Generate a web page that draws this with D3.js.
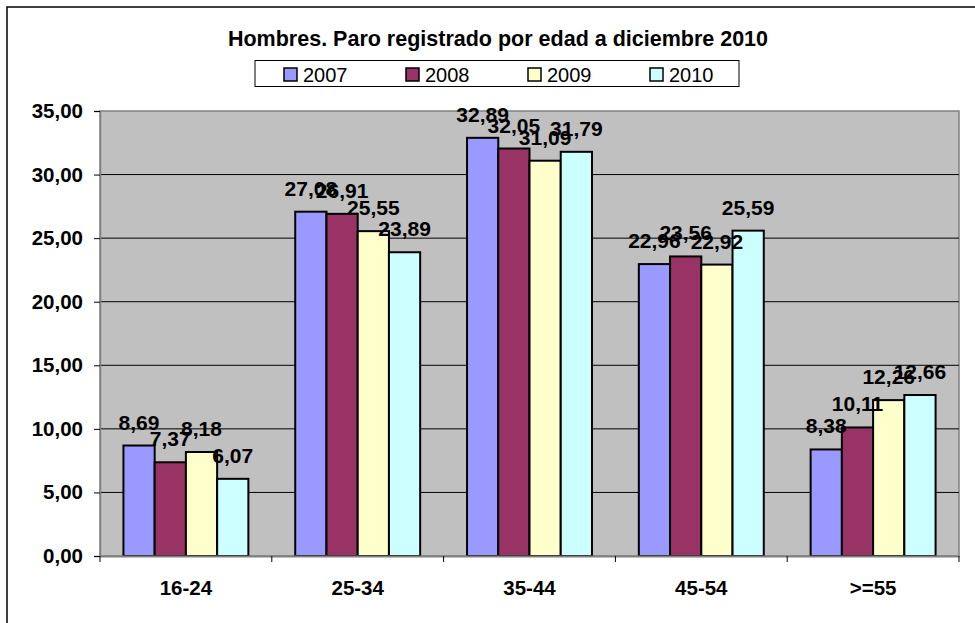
<!DOCTYPE html>
<html lang="es">
<head>
  <meta charset="UTF-8">
  <title>Hombres. Paro registrado por edad a diciembre 2010</title>
  <script src="https://d3js.org/d3.v7.min.js"></script>
  <style>
    body { margin: 0; overflow: hidden; background: #fff; }
    svg { display: block; font-family: "Liberation Sans", Arial, sans-serif; }
    .bold { font-weight: bold; }
  </style>
</head>
<body>
<svg width="975" height="623"></svg>

<script>
// datos
const edades = ['16-24', '25-34', '35-44', '45-54', '>=55'];
const anios = ['2007', '2008', '2009', '2010'];
const v2007 = [8.69, 27.08, 32.89, 22.96, 8.38];
const v2008 = [7.37, 26.91, 32.05, 23.56, 10.11];
const v2009 = [8.18, 25.55, 31.09, 22.92, 12.26];
const v2010 = [6.07, 23.89, 31.79, 25.59, 12.66];
const colores = ['#9999FF', '#993366', '#FFFFCC', '#CCFFFF'];
const yTicks = [0, 5, 10, 15, 20, 25, 30, 35];

const series = [v2007, v2008, v2009, v2010];
const fmt = v => d3.format('.2f')(v).replace('.', ',');

const svg = d3.select('svg');

// marco exterior
svg.append('rect')
  .attr('x', 7).attr('y', 7)
  .attr('width', 990).attr('height', 640)
  .attr('fill', 'none').attr('stroke', '#000').attr('stroke-width', 1.5);

const plot = { left: 100, top: 111, right: 959, bottom: 556 };

const x0 = d3.scaleBand().domain(edades).range([plot.left, plot.right]).padding(0);
const barW = x0.bandwidth() / 5.5;
const x1 = d3.scaleBand().domain(anios)
  .range([0.75 * barW, 4.75 * barW]).padding(0);
const y = d3.scaleLinear().domain([0, 35]).range([plot.bottom, plot.top]);

// fondo gris
svg.append('rect')
  .attr('x', plot.left).attr('y', plot.top)
  .attr('width', plot.right - plot.left).attr('height', plot.bottom - plot.top)
  .attr('fill', '#C0C0C0')
  .attr('stroke', '#808080').attr('stroke-width', 1.5);

// lineas de division
svg.append('g')
  .selectAll('line')
  .data(yTicks.slice(1, -1))
  .enter().append('line')
  .attr('x1', plot.left).attr('x2', plot.right)
  .attr('y1', d => y(d)).attr('y2', d => y(d))
  .attr('stroke', '#000').attr('stroke-width', 1);

// barras
const grupos = svg.append('g')
  .selectAll('g')
  .data(edades)
  .enter().append('g')
  .attr('transform', d => `translate(${x0(d)},0)`);

grupos.selectAll('rect')
  .data((d, i) => anios.map((a, j) => ({ anio: a, valor: series[j][i], j })))
  .enter().append('rect')
  .attr('x', d => x1(d.anio))
  .attr('y', d => y(d.valor))
  .attr('width', x1.bandwidth())
  .attr('height', d => y(0) - y(d.valor))
  .attr('fill', d => colores[d.j])
  .attr('stroke', '#000').attr('stroke-width', 2);

// etiquetas de datos
grupos.selectAll('text')
  .data((d, i) => anios.map((a, j) => ({ anio: a, valor: series[j][i] })))
  .enter().append('text')
  .attr('class', 'bold')
  .attr('x', d => x1(d.anio) + x1.bandwidth() / 2)
  .attr('y', d => y(d.valor) - 16)
  .attr('text-anchor', 'middle')
  .attr('font-size', 21)
  .text(d => fmt(d.valor));

// eje Y
const yAxis = svg.append('g')
  .attr('transform', `translate(${plot.left},0)`)
  .call(d3.axisLeft(y).tickValues(yTicks).tickSize(6).tickPadding(11).tickFormat(fmt));
yAxis.select('.domain').attr('stroke', '#808080').attr('stroke-width', 1.5);
yAxis.selectAll('.tick line').attr('stroke', '#000');
yAxis.selectAll('text')
  .attr('class', 'bold').attr('font-size', 20.5)
  .attr('font-family', '"Liberation Sans", Arial, sans-serif')
  .attr('fill', '#000');

// eje X
const xAxis = svg.append('g')
  .attr('transform', `translate(0,${plot.bottom})`)
  .call(d3.axisBottom(x0).tickSize(0).tickPadding(24));
xAxis.select('.domain').attr('stroke', '#808080').attr('stroke-width', 2);
xAxis.selectAll('text')
  .attr('class', 'bold').attr('font-size', 20.5)
  .attr('font-family', '"Liberation Sans", Arial, sans-serif')
  .attr('fill', '#000');

// marcas entre categorias
svg.append('g')
  .selectAll('line')
  .data(edades.concat(['fin']))
  .enter().append('line')
  .attr('x1', (d, i) => plot.left + i * x0.step())
  .attr('x2', (d, i) => plot.left + i * x0.step())
  .attr('y1', plot.bottom).attr('y2', plot.bottom + 6)
  .attr('stroke', '#000');

// titulo
svg.append('text')
  .attr('class', 'bold')
  .attr('x', 498).attr('y', 46)
  .attr('text-anchor', 'middle')
  .attr('font-size', 21.5)
  .text('Hombres. Paro registrado por edad a diciembre 2010');

// leyenda
const leyenda = svg.append('g');
leyenda.append('rect')
  .attr('x', 255).attr('y', 60.5).attr('width', 484).attr('height', 26)
  .attr('fill', '#fff').attr('stroke', '#000').attr('stroke-width', 1);

const item = leyenda.selectAll('g.item')
  .data(anios)
  .enter().append('g')
  .attr('class', 'item')
  .attr('transform', (d, i) => `translate(${284 + i * 122},0)`);
item.append('rect')
  .attr('x', 0).attr('y', 68).attr('width', 13).attr('height', 13)
  .attr('fill', (d, i) => colores[i])
  .attr('stroke', '#000').attr('stroke-width', 1.5);
item.append('text')
  .attr('x', 19).attr('y', 82)
  .attr('font-size', 20)
  .text(d => d);
</script>
</body>
</html>
